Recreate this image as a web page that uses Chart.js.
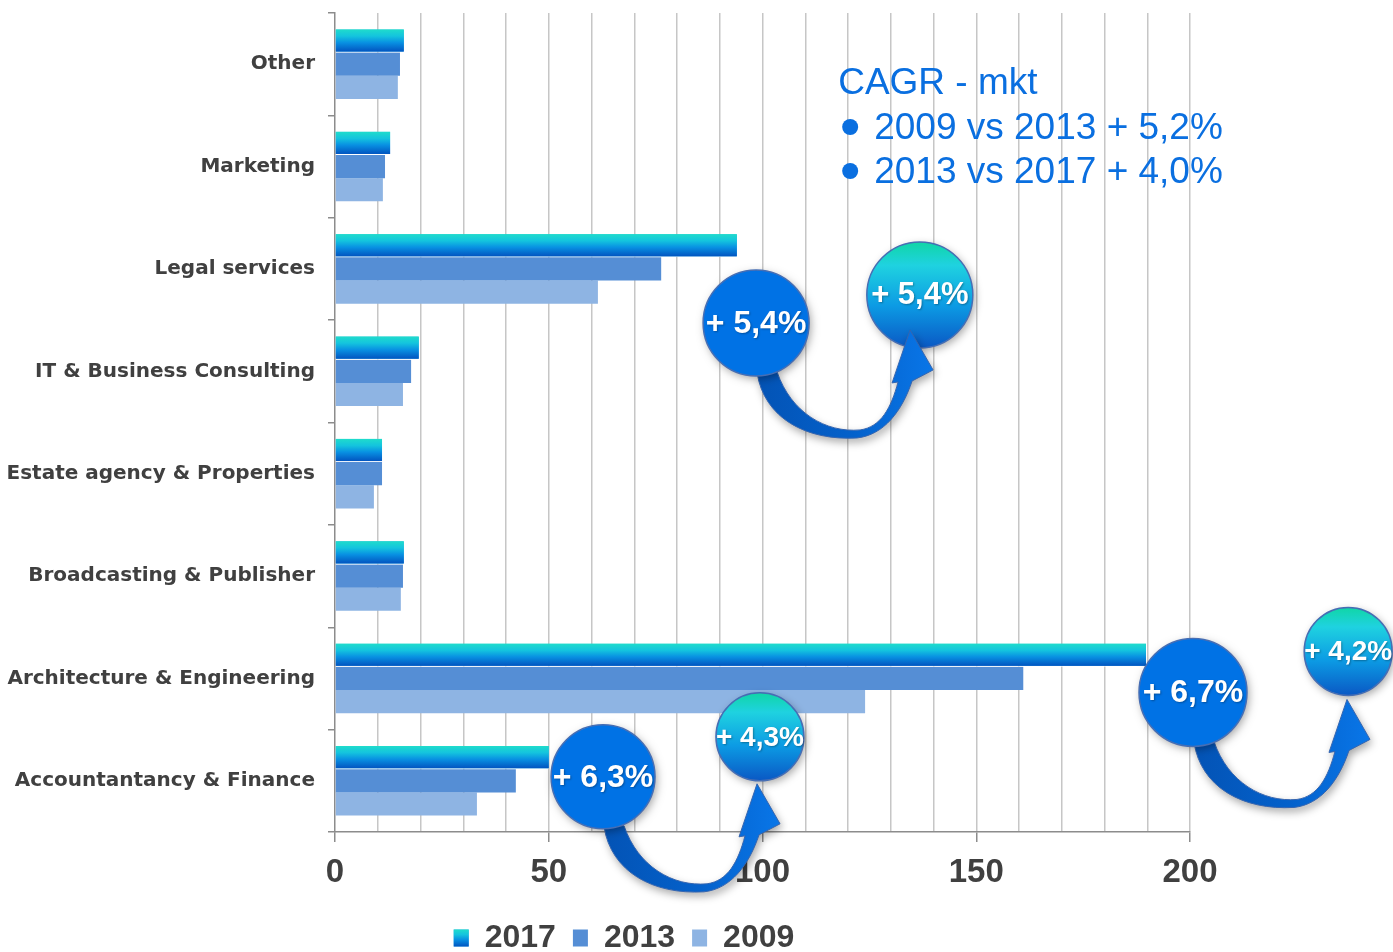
<!DOCTYPE html>
<html>
<head>
<meta charset="utf-8">
<script src="https://cdn.jsdelivr.net/npm/chart.js@4.4.1/dist/chart.umd.min.js"></script>
<style>
html, body { margin: 0; padding: 0; background: #fff; }
</style>
</head>
<body>
<canvas id="chart" width="1393" height="952"></canvas>
<script>
// data
const categories = ['Other', 'Marketing', 'Legal services', 'IT & Business Consulting',
    'Estate agency & Properties', 'Broadcasting & Publisher', 'Architecture & Engineering',
    'Accountantancy & Finance'];
const years = ['2017', '2013', '2009'];
const values2017 = [16.1, 12.9, 94.0, 19.6, 11.0, 16.1, 189.7, 50.0];
const values2013 = [15.2, 11.7, 76.3, 17.8, 11.0, 15.9, 161.0, 42.3];
const values2009 = [14.7, 11.2, 61.5, 15.9, 9.1, 15.4, 124.0, 33.2];
const xMax = 200;
const xLabelStep = 50;
const cagrTitle = 'CAGR - mkt';
const cagrLines = ['2009 vs 2013 + 5,2%', '2013 vs 2017 + 4,0%'];
const growthCats = ['Legal services', 'Architecture & Engineering', 'Accountantancy & Finance'];
const growthFirst = ['+ 5,4%', '+ 6,7%', '+ 6,3%'];
const growthSecond = ['+ 5,4%', '+ 4,2%', '+ 4,3%'];

// where the callout bubbles sit (x in axis units, dy in px from the category centre)
const calloutLayout = [
    { x1: 98.5, dy1: 54, r1: 53, f1: 32, x2: 136.8, dy2: 26, r2: 53, f2: 31 },
    { x1: 200.7, dy1: 14, r1: 54, f1: 32, x2: 237.0, dy2: -27, r2: 44, f2: 28 },
    { x1: 62.7, dy1: -4, r1: 52, f1: 32, x2: 99.4, dy2: -44, r2: 44, f2: 28 }
];

const textGrey = '#404040';
const axisGrey = '#8c8c8c';
const blue = '#0a6fe0';
const legendFont = 32;
const legendPad = 17;
const legendBox = { w: 15, h: 17 };

function barStops(g) {
    g.addColorStop(0, '#1fdccb');
    g.addColorStop(0.3, '#14c4de');
    g.addColorStop(0.6, '#0890e2');
    g.addColorStop(1, '#0254c0');
}

function drawArrow(ctx, cx, cy) {
    ctx.save();
    ctx.translate(cx, cy);
    ctx.beginPath();
    ctx.moveTo(1, 50);
    ctx.bezierCurveTo(8, 95, 50, 118, 101, 115);
    ctx.bezierCurveTo(128, 112, 146, 88, 156, 58);
    ctx.lineTo(177, 47);
    ctx.lineTo(154, 7);
    ctx.lineTo(136, 60);
    ctx.lineTo(142, 59);
    ctx.bezierCurveTo(135, 85, 125, 104, 104, 107);
    ctx.bezierCurveTo(70, 110, 35, 90, 21, 49);
    ctx.closePath();
    const g = ctx.createLinearGradient(0, 0, 177, 0);
    g.addColorStop(0, '#0353b5');
    g.addColorStop(0.55, '#0461cb');
    g.addColorStop(1, '#0976e8');
    ctx.shadowColor = 'rgba(0,0,0,0.35)';
    ctx.shadowBlur = 8;
    ctx.shadowOffsetX = 2;
    ctx.shadowOffsetY = 4;
    ctx.fillStyle = g;
    ctx.fill();
    ctx.shadowColor = 'transparent';
    ctx.strokeStyle = '#3565b0';
    ctx.lineWidth = 1;
    ctx.stroke();
    ctx.restore();
}

function drawBubble(ctx, x, y, r, fill) {
    ctx.save();
    ctx.beginPath();
    ctx.arc(x, y, r, 0, Math.PI * 2);
    ctx.shadowColor = 'rgba(0,0,0,0.35)';
    ctx.shadowBlur = 8;
    ctx.shadowOffsetX = 2;
    ctx.shadowOffsetY = 3;
    ctx.fillStyle = fill;
    ctx.fill();
    ctx.shadowColor = 'transparent';
    ctx.strokeStyle = '#466eb4';
    ctx.lineWidth = 1.5;
    ctx.stroke();
    ctx.restore();
}

function drawBubbleText(ctx, x, y, text, size) {
    ctx.save();
    ctx.font = 'bold ' + size + 'px "Liberation Sans", Arial, sans-serif';
    ctx.textAlign = 'center';
    ctx.textBaseline = 'middle';
    ctx.fillStyle = '#ffffff';
    ctx.shadowColor = 'rgba(0,0,0,0.3)';
    ctx.shadowBlur = 2;
    ctx.shadowOffsetX = 1;
    ctx.shadowOffsetY = 1;
    ctx.fillText(text, x, y + 1);
    ctx.restore();
}

const decorPlugin = {
    id: 'decor',
    afterLayout(chart) {
        // the legend in the picture sits a bit right of the canvas centre
        const lg = chart.legend;
        lg.left += 29;
        lg.right += 29;
    },
    afterDatasetsDraw(chart) {
        // vertical gradient on the 2017 bars
        const ctx = chart.ctx;
        chart.getDatasetMeta(0).data.forEach(bar => {
            const top = bar.y - bar.height / 2;
            const h = bar.height - 1;
            const g = ctx.createLinearGradient(0, top, 0, top + h);
            barStops(g);
            ctx.fillStyle = g;
            ctx.fillRect(bar.base, top, bar.x - bar.base, h);
        });
    },
    afterDraw(chart) {
        const ctx = chart.ctx;
        const xs = chart.scales.x;
        const ys = chart.scales.y;

        // legend box for 2017 gets the same gradient
        const lg = chart.legend;
        const bx = (lg.left + legendPad + lg.right - lg.lineWidths[0]) / 2;
        const by = lg.top + legendPad + (legendFont - legendBox.h) / 2;
        const lgGrad = ctx.createLinearGradient(0, by, 0, by + legendBox.h);
        barStops(lgGrad);
        ctx.fillStyle = lgGrad;
        ctx.fillRect(bx, by, legendBox.w, legendBox.h);

        // CAGR note
        const tx = xs.getPixelForValue(117.7);
        const top = chart.chartArea.top;
        ctx.save();
        ctx.fillStyle = blue;
        ctx.font = '37px "Liberation Sans", Arial, sans-serif';
        ctx.textBaseline = 'alphabetic';
        ctx.fillText(cagrTitle, tx, top + 81);
        cagrLines.forEach((line, i) => {
            const base = top + 126 + i * 44;
            ctx.beginPath();
            ctx.arc(tx + 12, base - 12, 8, 0, Math.PI * 2);
            ctx.fill();
            ctx.fillText(line, tx + 36, base);
        });
        ctx.restore();

        // growth callouts
        growthCats.forEach((cat, i) => {
            const L = calloutLayout[i];
            const cy = ys.getPixelForValue(categories.indexOf(cat));
            const x1 = xs.getPixelForValue(L.x1), y1 = cy + L.dy1;
            const x2 = xs.getPixelForValue(L.x2), y2 = cy + L.dy2;

            const g = ctx.createLinearGradient(0, y2 - L.r2, 0, y2 + L.r2);
            g.addColorStop(0, '#10d6a6');
            g.addColorStop(0.22, '#1fd2e0');
            g.addColorStop(0.6, '#0c9be4');
            g.addColorStop(1, '#0a58c4');
            drawBubble(ctx, x2, y2, L.r2, g);
            drawArrow(ctx, x1, y1);
            drawBubble(ctx, x1, y1, L.r1, '#0072e5');
            drawBubbleText(ctx, x1, y1, growthFirst[i], L.f1);
            drawBubbleText(ctx, x2, y2, growthSecond[i], L.f2);
        });
    }
};

new Chart(document.getElementById('chart'), {
    type: 'bar',
    data: {
        labels: categories,
        datasets: [{
            label: years[0],
            data: values2017,
            backgroundColor: '#0a9fe2',
            borderColor: '#ffffff',
            borderWidth: { bottom: 1 },
            borderSkipped: 'start'
        }, {
            label: years[1],
            data: values2013,
            backgroundColor: '#558ed5',
            borderWidth: 0
        }, {
            label: years[2],
            data: values2009,
            backgroundColor: '#8eb4e3',
            borderWidth: 0
        }]
    },
    options: {
        indexAxis: 'y',
        responsive: false,
        animation: false,
        devicePixelRatio: 1,
        categoryPercentage: 0.68,
        barPercentage: 1.0,
        layout: { padding: { top: 13, right: 203, bottom: -12, left: 0 } },
        scales: {
            x: {
                min: 0,
                max: xMax,
                afterFit: (scale) => { scale.height = 73; },
                border: { display: true, color: axisGrey, width: 1.5 },
                grid: {
                    color: (c) => (c.tick && c.tick.value === 0 ? 'rgba(0,0,0,0)' : '#c6c6c6'),
                    lineWidth: 1.5,
                    tickLength: 10,
                    tickColor: (c) => (c.tick && c.tick.value % xLabelStep === 0 ? axisGrey : 'rgba(0,0,0,0)'),
                    tickWidth: 1.5
                },
                ticks: {
                    stepSize: 10,
                    autoSkip: false,
                    maxRotation: 0,
                    padding: 11,
                    color: textGrey,
                    font: { family: '"Liberation Sans", Arial, sans-serif', size: 33, weight: 'bold' },
                    callback: (v) => (v % xLabelStep === 0 ? v : '')
                }
            },
            y: {
                afterFit: (scale) => {
                    scale.width = 335;
                    scale.paddingTop = 0;
                    scale.paddingBottom = 0;
                },
                border: { display: true, color: axisGrey, width: 1.5 },
                grid: {
                    drawOnChartArea: false,
                    color: axisGrey,
                    lineWidth: 1.5,
                    tickLength: 7,
                    offset: true
                },
                ticks: {
                    padding: 13,
                    color: textGrey,
                    font: { family: '"DejaVu Sans", Verdana, sans-serif', size: 20, weight: 'bold' }
                }
            }
        },
        plugins: {
            legend: {
                position: 'bottom',
                labels: {
                    boxWidth: legendBox.w,
                    boxHeight: legendBox.h,
                    padding: legendPad,
                    color: textGrey,
                    font: { family: '"Liberation Sans", Arial, sans-serif', size: legendFont, weight: 'bold' }
                }
            },
            tooltip: { enabled: false }
        }
    },
    plugins: [decorPlugin]
});
</script>
</body>
</html>
